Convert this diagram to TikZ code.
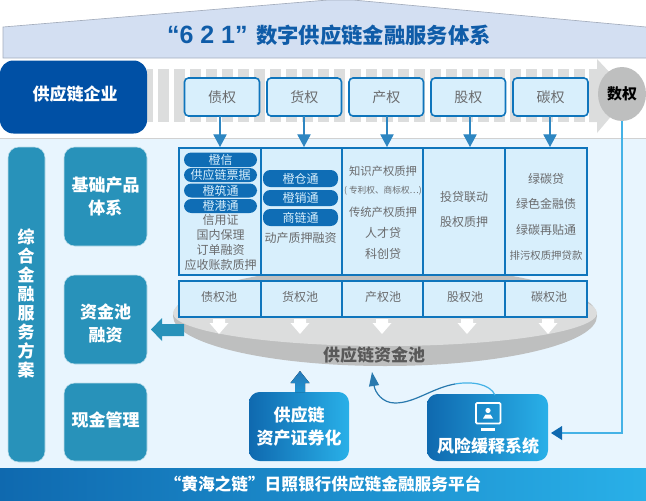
\documentclass[tikz,border=0pt]{standalone}
\usepackage{fontspec}
\setmainfont{Noto Sans CJK SC}
\newfontfamily\latf{Liberation Sans}
\usetikzlibrary{arrows.meta,shapes.geometric}
\definecolor{tblue}{HTML}{0F5CA8}
\definecolor{banner}{HTML}{D3DFF2}
\definecolor{navy}{HTML}{0050A5}
\definecolor{stripe}{HTML}{DCDDDD}
\definecolor{panel}{HTML}{E8F5FE}
\definecolor{teal}{HTML}{2892BA}
\definecolor{cell}{HTML}{D8EFFC}
\definecolor{edge}{HTML}{0F75BC}
\definecolor{pillc}{HTML}{0F6DB5}
\definecolor{txt}{HTML}{6A6B6D}
\definecolor{gradl}{HTML}{0F69AF}
\definecolor{gradr}{HTML}{29B0E8}
\definecolor{discl}{HTML}{DCDDDD}
\definecolor{discd}{HTML}{BEBFBF}
\definecolor{wire}{HTML}{2E86C1}
\definecolor{cyanw}{HTML}{45B2E6}
\newcommand{\fa}{\fontsize{9}{11}\selectfont}
\newcommand{\fb}{\fontsize{12.75}{17.25}\selectfont\bfseries}
\tikzset{
 x=0.75pt,y=-0.75pt,
 span/.style n args={4}{at={({(#1+#3)/2},{(#2+#4)/2})},minimum width={(#3-#1)*0.75pt},minimum height={(#4-#2)*0.75pt}},
 boxbase/.style={inner sep=0pt,outer sep=0pt,align=center},
 rightsbox/.style={boxbase,draw=edge,line width=1.2pt,fill=cell,rounded corners=3pt,text=txt,font=\fontsize{10.5}{13}\selectfont},
 cellbox/.style={boxbase,draw=edge,line width=1.2pt,fill=cell,text=txt,font=\fa},
 pill/.style={boxbase,fill=pillc,rounded corners=5.5pt,text=cell,font=\fa},
 tealbox/.style={boxbase,fill=teal,draw=white!70!teal,line width=.4pt,rounded corners=8pt,text=white,font=\fb},
 gradbox/.style={boxbase,left color=gradl,right color=gradr,rounded corners=8pt,text=white,font=\fb},
 whitetxt/.style={boxbase,text=white,font=\fb},
 plain/.style={boxbase,text=txt,font=\fa},
 downtip/.style={-{Triangle[length=9.5pt,width=10pt]},draw=wire,line width=.9pt,color=wire},
}
\begin{document}
\begin{tikzpicture}
\useasboundingbox (0,0) rectangle (646,500);
% title banner
\fill[banner] (3,58) -- (3,27) -- (328,0) -- (353,0) -- (646,27) -- (646,58) -- cycle;
\draw[draw=black!22!banner,line width=.5pt] (646,27) -- (353,0) -- (328,0) -- (3,27) -- (3,58) -- (646,58);
\node[boxbase,anchor=west,text=tblue,font=\bfseries] (title) at (167,35)
 {{\latf\fontsize{18.75}{22}\selectfont “6 2 1”}\hspace{6.5pt}{\fontsize{16}{20}\selectfont 数字供应链金融服务体系}};
% stripes
\fill[stripe] (147,69) rectangle (153,122);
\foreach \i in {0,...,26} {\fill[stripe] ({158+16*\i},69) rectangle ({168.7+16*\i},122);}
\fill[stripe] (589,69) -- (597,69) -- (597,59) -- (630,94) -- (597,133) -- (597,122) -- (589,122) -- cycle;
% panel
\fill[panel] (0,138) rectangle (646,468);
\draw[black!18,line width=.4pt] (0,138) -- (646,138);
% company + data right
\node[boxbase,fill=navy,rounded corners=10pt,span={0}{60.5}{147}{133.5}] (company) {};
\node[whitetxt] (companytxt) at (75,94.5) {供应链企业};
\node[boxbase,ellipse,fill=discd,minimum width=36pt,minimum height=40.5pt,text=black,font=\fontsize{11.25}{13}\selectfont\bfseries] (shuquan) at (622,94) {数权};
% rights
\node[rightsbox,span={184.5}{78}{259.5}{116}] (r1) {债权};
\node[rightsbox,span={267}{78}{341.5}{116}] (r2) {货权};
\node[rightsbox,span={349}{78}{423.5}{116}] (r3) {产权};
\node[rightsbox,span={431}{78}{505.5}{116}] (r4) {股权};
\node[rightsbox,span={513}{78}{588}{116}] (r5) {碳权};
% left column
\node[tealbox,span={8}{147}{45}{462}] (plan) {};
\node[whitetxt,font=\fontsize{12.75}{14.3}\selectfont\bfseries] (plantxt) at (26,303.5) {综\\合\\金\\融\\服\\务\\方\\案};
\node[tealbox,span={64}{147}{147}{246}] (base) {基础产品\\体系};
\node[tealbox,span={64}{275}{147}{364}] (fund) {};
\node[whitetxt] (fundtxt) at (105.5,323.5) {资金池\\融资};
\node[tealbox,span={64}{383}{147}{461}] (cash) {};
\node[whitetxt] (cashtxt) at (105.5,419.5) {现金管理};
% disc
\fill[discd] (385,316) ellipse [x radius=212,y radius=50];
\fill[discl] (385,313) ellipse [x radius=212,y radius=33];
\node[boxbase,text=black!65,font=\fontsize{12.75}{16}\selectfont\bfseries] (poolname) at (374,355) {供应链资金池};
% table
\node[cellbox,span={179}{148}{261}{275}] (c1) {};
\node[cellbox,span={261}{148}{342}{275}] (c2) {};
\node[cellbox,span={342}{148}{423}{275}] (c3) {};
\node[cellbox,span={423}{148}{505}{275}] (c4) {};
\node[cellbox,span={505}{148}{587}{275}] (c5) {};
\node[cellbox,span={179}{281}{261}{317}] (p1) {};
\node[cellbox,span={261}{281}{342}{317}] (p2) {};
\node[cellbox,span={342}{281}{423}{317}] (p3) {};
\node[cellbox,span={423}{281}{505}{317}] (p4) {};
\node[cellbox,span={505}{281}{587}{317}] (p5) {};
\node[plain] (pt1) at (219,297) {债权池};
\node[plain] (pt2) at (300,297) {货权池};
\node[plain] (pt3) at (383,297) {产权池};
\node[plain] (pt4) at (465,297) {股权池};
\node[plain] (pt5) at (549,297) {碳权池};
% col 1
\node[pill,span={184}{152.5}{257}{167}] (a1) {橙信};
\node[pill,span={184}{168}{257}{182}] (a2) {供应链票据};
\node[pill,span={184}{183.5}{257}{197.5}] (a3) {橙筑通};
\node[pill,span={184}{199}{257}{213}] (a4) {橙港通};
\node[plain] (a5) at (220.5,220) {信用证};
\node[plain] (a6) at (220.5,235) {国内保理};
\node[plain] (a7) at (220.5,250) {订单融资};
\node[plain] (a8) at (220.5,265) {应收账款质押};
% col 2
\node[pill,span={263}{170}{338}{187}] (b1) {橙仓通};
\node[pill,span={263}{190}{338}{206}] (b2) {橙销通};
\node[pill,span={263}{209}{338}{226}] (b3) {商链通};
\node[plain] (b4) at (300.5,238) {动产质押融资};
% col 3
\node[plain,font=\fontsize{8.5}{10}\selectfont] (d1) at (383,171) {知识产权质押};
\node[plain,font=\fontsize{6.5}{9}\selectfont] (d2) at (383,191) {( 专利权、商标权…)};
\node[plain,font=\fontsize{8.5}{10}\selectfont] (d3) at (383,212) {传统产权质押};
\node[plain] (d4) at (383,233) {人才贷};
\node[plain] (d5) at (383,254) {科创贷};
% col 4
\node[plain] (e1) at (464,197) {投贷联动};
\node[plain] (e2) at (464,222) {股权质押};
% col 5
\node[plain] (g1) at (546,179) {绿碳贷};
\node[plain] (g2) at (546,204) {绿色金融债};
\node[plain] (g3) at (546,230) {绿碳再贴通};
\node[plain,font=\fontsize{7.8}{9}\selectfont] (g4) at (546,256) {排污权质押贷款};
% rights to products
\coordinate (t1) at (220,147);
\coordinate (t2) at (304,147);
\coordinate (t3) at (387,147);
\coordinate (t4) at (470,147);
\coordinate (t5) at (550,147);
\foreach \n in {1,...,5} {\draw[downtip] (r\n.south -| t\n) -- (t\n);}
% white arrows from pools to disc
\foreach \n/\xx in {p1/219,p2/300,p3/382,p4/467,p5/548} {
 \fill[white] (\xx-6,319) -- (\xx+6,319) -- (\xx+6,323) -- (\xx+9.5,323) -- (\xx,334) -- (\xx-9.5,323) -- (\xx-6,323) -- cycle;
}
% fund arrow
\fill[teal] (184,324) -- (162,324) -- (162,318) -- (151,329.5) -- (162,341) -- (162,336) -- (184,336) -- cycle;
% bottom bar
\node[boxbase,left color=gradl,right color=gradr,text=white,font=\fontsize{12.5}{16}\selectfont\bfseries,span={0}{468}{646}{500}] (platform) {“黄海之链”日照银行供应链金融服务平台};
% securitisation
\node[gradbox,span={249}{392}{349}{461}] (sec) {供应链\\资产证券化};
\fill[bottom color=gradr!60!gradl,top color=gradl!90!white] (295,392) -- (295,383) -- (290.5,383) -- (300,371) -- (309.5,383) -- (305,383) -- (305,392) -- cycle;
% risk
\node[boxbase,left color=gradl,right color=gradr,rounded corners=8pt,span={427}{394}{548}{461}] (risk) {};
\node[whitetxt] (risktxt) at (488,446) {风险缓释系统};
\draw[white,line width=1.3pt,rounded corners=.8pt] (476,403) rectangle (500.5,423.5);
\fill[white] (481,428) rectangle (495,431);
\fill[white] (488,410.5) circle (2.6);
\fill[white] (483,418.5) -- (485.5,414.5) -- (490.5,414.5) -- (493,418.5) -- cycle;
% curve
\coordinate (curveend) at (372,372);
\draw[cyanw,line width=.9pt] (495,395) .. controls (490,384) and (472,381) .. (455,384);
\draw[wire,line width=.9pt,-{Triangle[length=10.5pt,width=7.5pt]},color=wire!90!black] (455,384) .. controls (432,388) and (415,403) .. (395,403) .. controls (382,403) and (375,392) .. (curveend);
% data line
\draw[cyanw,line width=.8pt] (shuquan.south) -- (622,433) -- (560,433);
\fill[gradl] (551,433) -- (562,426) -- (562,440) -- cycle;
\end{tikzpicture}
\end{document}
